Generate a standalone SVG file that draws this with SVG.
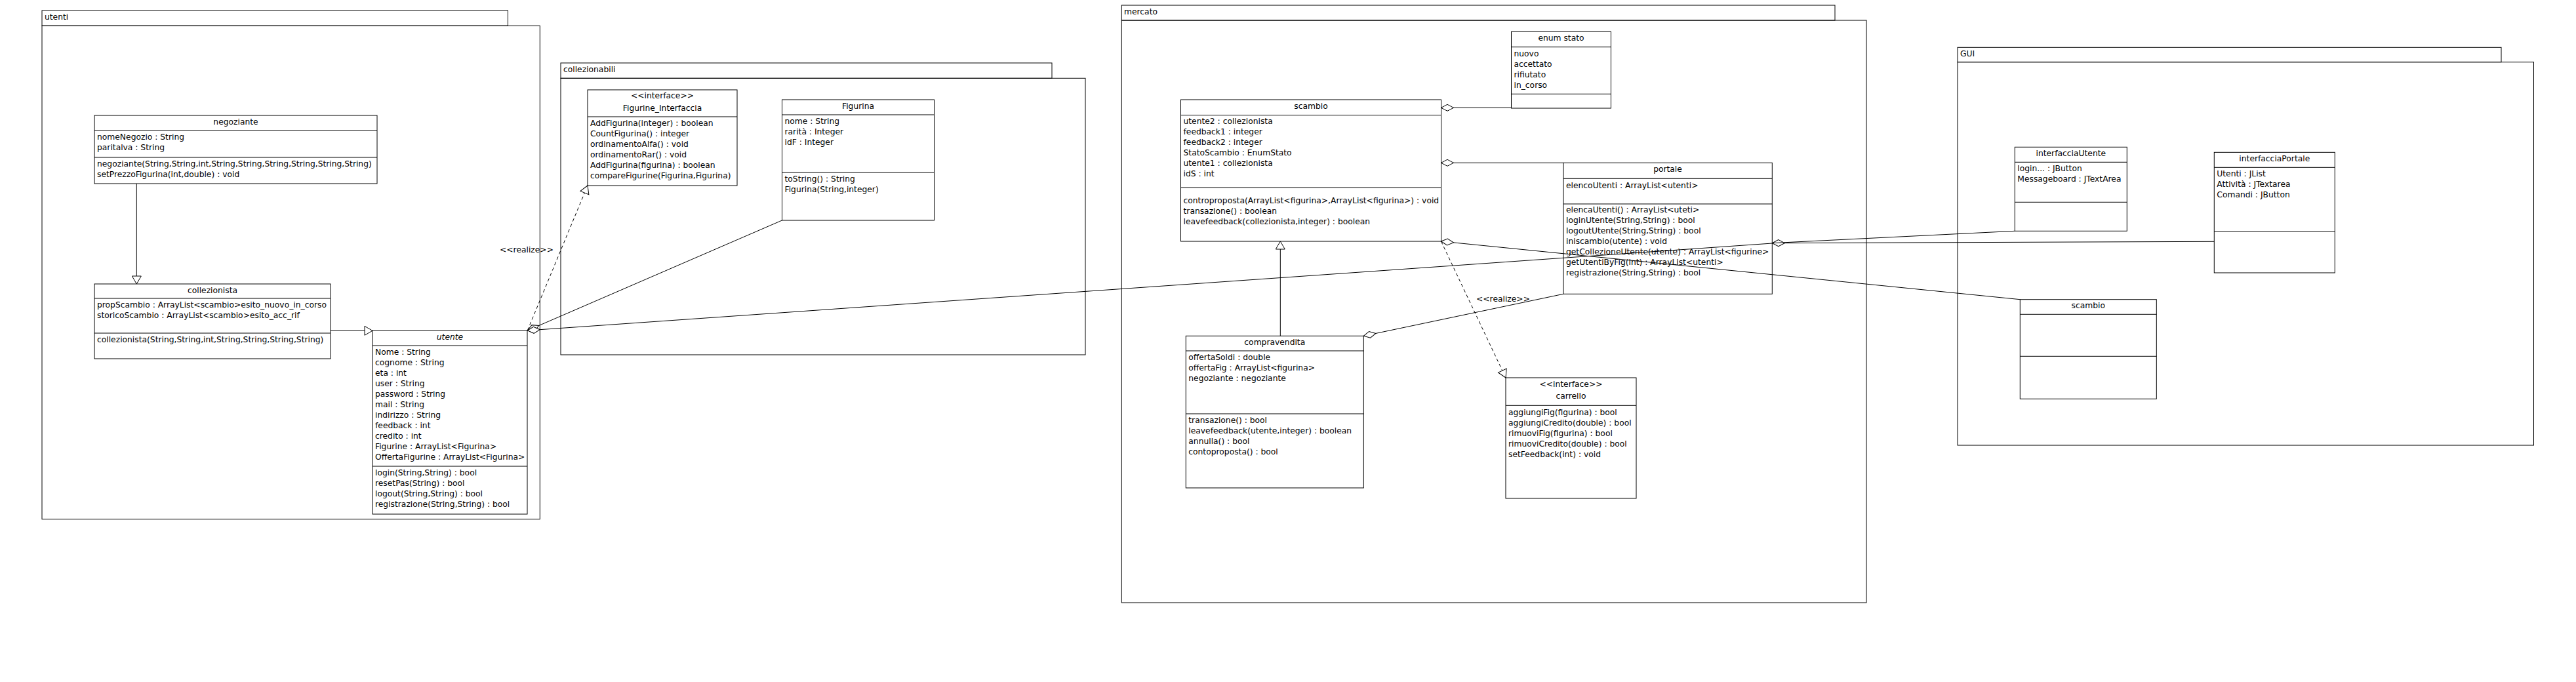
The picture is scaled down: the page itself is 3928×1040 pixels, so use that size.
<svg xmlns="http://www.w3.org/2000/svg" width="3928" height="1040" viewBox="0 0 3928 1040">
<style>
text{font-family:"DejaVu Sans","Liberation Sans",sans-serif;font-size:12.3px;fill:#000}
.c{text-anchor:middle}
.i{font-style:italic}
.box{fill:#fff;stroke:#000;stroke-width:1}
.sep{stroke:#000;stroke-width:1}
.pkg{fill:none;stroke:#000;stroke-width:1}
.ln{fill:none;stroke:#000;stroke-width:1}
.dash{stroke-dasharray:5,4}
</style>
<defs>
<marker id="dia" markerUnits="userSpaceOnUse" orient="auto" refX="0" refY="0" markerWidth="30" markerHeight="30" overflow="visible">
<path d="M0,0 L9.5,-5 L19,0 L9.5,5 Z" fill="#fff" stroke="#000" stroke-width="1"/>
</marker>
<marker id="tri" markerUnits="userSpaceOnUse" orient="auto" refX="0" refY="0" markerWidth="30" markerHeight="30" overflow="visible">
<path d="M0,0 L-12,-7 L-12,7 Z" fill="#fff" stroke="#000" stroke-width="1" stroke-dasharray="none"/>
</marker>
</defs>
<rect width="3928" height="1040" fill="#fff"/>

<g id="packages">
<g id="pkg-utenti">
<rect class="pkg" x="64" y="16" width="710.5" height="23.3"/>
<rect class="pkg" x="64" y="39.3" width="759.3" height="752.4"/>
<text x="68" y="30">utenti</text>
</g>
<g id="pkg-collezionabili">
<rect class="pkg" x="855" y="96" width="749" height="23.3"/>
<rect class="pkg" x="855" y="119.3" width="800" height="421.7"/>
<text x="859" y="110">collezionabili</text>
</g>
<g id="pkg-mercato">
<rect class="pkg" x="1710.3" y="8" width="1087.7" height="23"/>
<rect class="pkg" x="1710.3" y="31" width="1135.7" height="888"/>
<text x="1714" y="22">mercato</text>
</g>
<g id="pkg-gui">
<rect class="pkg" x="2985" y="72.3" width="829" height="22.4"/>
<rect class="pkg" x="2985" y="94.7" width="878.5" height="584.3"/>
<text x="2989" y="86">GUI</text>
</g>
</g>

<g id="negoziante">
<rect class="box" x="144" y="176" width="431" height="104"/>
<line class="sep" x1="144" y1="199" x2="575" y2="199"/>
<line class="sep" x1="144" y1="240" x2="575" y2="240"/>
<text class="c" x="359.5" y="189.5">negoziante</text>
<text x="148" y="212.5">nomeNegozio : String</text>
<text x="148" y="228.5">paritalva : String</text>
<text x="148" y="253.5">negoziante(String,String,int,String,String,String,String,String,String)</text>
<text x="148" y="269.5">setPrezzoFigurina(int,double) : void</text>
</g>

<g id="collezionista">
<rect class="box" x="144" y="433" width="360" height="114"/>
<line class="sep" x1="144" y1="455" x2="504" y2="455"/>
<line class="sep" x1="144" y1="508" x2="504" y2="508"/>
<text class="c" x="324" y="446.5">collezionista</text>
<text x="148" y="468.5">propScambio : ArrayList&lt;scambio&gt;esito_nuovo_in_corso</text>
<text x="148" y="484.5">storicoScambio : ArrayList&lt;scambio&gt;esito_acc_rif</text>
<text x="148" y="521.5">collezionista(String,String,int,String,String,String,String)</text>
</g>

<g id="utente">
<rect class="box" x="568" y="504" width="236" height="280"/>
<line class="sep" x1="568" y1="527" x2="804" y2="527"/>
<line class="sep" x1="568" y1="711" x2="804" y2="711"/>
<text class="c i" x="686" y="517.5">utente</text>
<text x="572" y="540.5">Nome : String</text>
<text x="572" y="556.5">cognome : String</text>
<text x="572" y="572.5">eta : int</text>
<text x="572" y="588.5">user : String</text>
<text x="572" y="604.5">password : String</text>
<text x="572" y="620.5">mail : String</text>
<text x="572" y="636.5">indirizzo : String</text>
<text x="572" y="652.5">feedback : int</text>
<text x="572" y="668.5">credito : int</text>
<text x="572" y="684.5">Figurine : ArrayList&lt;Figurina&gt;</text>
<text x="572" y="700.5">OffertaFigurine : ArrayList&lt;Figurina&gt;</text>
<text x="572" y="724.5">login(String,String) : bool</text>
<text x="572" y="740.5">resetPas(String) : bool</text>
<text x="572" y="756.5">logout(String,String) : bool</text>
<text x="572" y="772.5">registrazione(String,String) : bool</text>
</g>

<g id="Figurine_Interfaccia">
<rect class="box" x="896" y="137" width="228" height="146"/>
<line class="sep" x1="896" y1="178" x2="1124" y2="178"/>
<text class="c" x="1010" y="149.5">&lt;&lt;interface&gt;&gt;</text>
<text class="c" x="1010" y="168.5">Figurine_Interfaccia</text>
<text x="900" y="191.5">AddFigurina(integer) : boolean</text>
<text x="900" y="207.5">CountFigurina() : integer</text>
<text x="900" y="223.5">ordinamentoAlfa() : void</text>
<text x="900" y="239.5">ordinamentoRar() : void</text>
<text x="900" y="255.5">AddFigurina(figurina) : boolean</text>
<text x="900" y="271.5">compareFigurine(Figurina,Figurina)</text>
</g>

<g id="Figurina">
<rect class="box" x="1192.5" y="152" width="232" height="184"/>
<line class="sep" x1="1192.5" y1="175" x2="1424.5" y2="175"/>
<line class="sep" x1="1192.5" y1="263" x2="1424.5" y2="263"/>
<text class="c" x="1308.5" y="165.5">Figurina</text>
<text x="1196.5" y="188.5">nome : String</text>
<text x="1196.5" y="204.5">rarità : Integer</text>
<text x="1196.5" y="220.5">idF : Integer</text>
<text x="1196.5" y="276.5">toString() : String</text>
<text x="1196.5" y="292.5">Figurina(String,integer)</text>
</g>

<g id="scambio">
<rect class="box" x="1800.5" y="152" width="397" height="216"/>
<line class="sep" x1="1800.5" y1="175.5" x2="2197.5" y2="175.5"/>
<line class="sep" x1="1800.5" y1="286" x2="2197.5" y2="286"/>
<text class="c" x="1999" y="165.5">scambio</text>
<text x="1804.5" y="189">utente2 : collezionista</text>
<text x="1804.5" y="205">feedback1 : integer</text>
<text x="1804.5" y="221">feedback2 : integer</text>
<text x="1804.5" y="237">StatoScambio : EnumStato</text>
<text x="1804.5" y="253">utente1 : collezionista</text>
<text x="1804.5" y="269">idS : int</text>
<text x="1804.5" y="309.5">controproposta(ArrayList&lt;figurina&gt;,ArrayList&lt;figurina&gt;) : void</text>
<text x="1804.5" y="325.5">transazione() : boolean</text>
<text x="1804.5" y="341.5">leavefeedback(collezionista,integer) : boolean</text>
</g>

<g id="enum-stato">
<rect class="box" x="2304.5" y="48.3" width="152" height="116.7"/>
<line class="sep" x1="2304.5" y1="71.7" x2="2456.5" y2="71.7"/>
<line class="sep" x1="2304.5" y1="143.3" x2="2456.5" y2="143.3"/>
<text class="c" x="2380.5" y="61.5">enum stato</text>
<text x="2308.5" y="85.5">nuovo</text>
<text x="2308.5" y="101.5">accettato</text>
<text x="2308.5" y="117.5">rifiutato</text>
<text x="2308.5" y="133.5">in_corso</text>
</g>

<g id="portale">
<rect class="box" x="2384" y="248.3" width="318.3" height="200"/>
<line class="sep" x1="2384" y1="272.3" x2="2702.3" y2="272.3"/>
<line class="sep" x1="2384" y1="311" x2="2702.3" y2="311"/>
<text class="c" x="2543" y="261.5">portale</text>
<text x="2388" y="287">elencoUtenti : ArrayList&lt;utenti&gt;</text>
<text x="2388" y="323.5">elencaUtenti() : ArrayList&lt;uteti&gt;</text>
<text x="2388" y="339.5">loginUtente(String,String) : bool</text>
<text x="2388" y="355.5">logoutUtente(String,String) : bool</text>
<text x="2388" y="371.5">iniscambio(utente) : void</text>
<text x="2388" y="387.5">getCollezioneUtente(utente) : ArrayList&lt;figurine&gt;</text>
<text x="2388" y="403.5">getUtentiByFig(int) : ArrayList&lt;utenti&gt;</text>
<text x="2388" y="419.5">registrazione(String,String) : bool</text>
</g>

<g id="compravendita">
<rect class="box" x="1808.3" y="512.3" width="271" height="231.7"/>
<line class="sep" x1="1808.3" y1="535" x2="2079.3" y2="535"/>
<line class="sep" x1="1808.3" y1="631" x2="2079.3" y2="631"/>
<text class="c" x="1943.8" y="526">compravendita</text>
<text x="1812.3" y="548.5">offertaSoldi : double</text>
<text x="1812.3" y="564.5">offertaFig : ArrayList&lt;figurina&gt;</text>
<text x="1812.3" y="580.5">negoziante : negoziante</text>
<text x="1812.3" y="644.5">transazione() : bool</text>
<text x="1812.3" y="660.5">leavefeedback(utente,integer) : boolean</text>
<text x="1812.3" y="676.5">annulla() : bool</text>
<text x="1812.3" y="692.5">contoproposta() : bool</text>
</g>

<g id="carrello">
<rect class="box" x="2296" y="576" width="199" height="184"/>
<line class="sep" x1="2296" y1="618.3" x2="2495" y2="618.3"/>
<text class="c" x="2395.5" y="589.5">&lt;&lt;interface&gt;&gt;</text>
<text class="c" x="2395.5" y="608">carrello</text>
<text x="2300" y="632.5">aggiungiFig(figurina) : bool</text>
<text x="2300" y="648.5">aggiungiCredito(double) : bool</text>
<text x="2300" y="664.5">rimuoviFig(figurina) : bool</text>
<text x="2300" y="680.5">rimuoviCredito(double) : bool</text>
<text x="2300" y="696.5">setFeedback(int) : void</text>
</g>

<g id="interfacciaUtente">
<rect class="box" x="3072.3" y="224.3" width="171" height="128"/>
<line class="sep" x1="3072.3" y1="247.3" x2="3243.3" y2="247.3"/>
<line class="sep" x1="3072.3" y1="308.3" x2="3243.3" y2="308.3"/>
<text class="c" x="3157.8" y="237.5">interfacciaUtente</text>
<text x="3076.3" y="261">login... : JButton</text>
<text x="3076.3" y="277">Messageboard : JTextArea</text>
</g>

<g id="interfacciaPortale">
<rect class="box" x="3376.3" y="232.3" width="184" height="183.7"/>
<line class="sep" x1="3376.3" y1="255.3" x2="3560.3" y2="255.3"/>
<line class="sep" x1="3376.3" y1="352.7" x2="3560.3" y2="352.7"/>
<text class="c" x="3468.3" y="245.5">interfacciaPortale</text>
<text x="3380.3" y="269">Utenti : JList</text>
<text x="3380.3" y="285">Attività : JTextarea</text>
<text x="3380.3" y="301">Comandi : JButton</text>
</g>

<g id="gui-scambio">
<rect class="box" x="3080.3" y="456.7" width="208" height="151.6"/>
<line class="sep" x1="3080.3" y1="479.3" x2="3288.3" y2="479.3"/>
<line class="sep" x1="3080.3" y1="543.3" x2="3288.3" y2="543.3"/>
<text class="c" x="3184.3" y="469.5">scambio</text>
</g>

<g id="connectors">
<line class="ln" x1="208.3" y1="280" x2="208.3" y2="433" marker-end="url(#tri)"/>
<line class="ln" x1="504" y1="504.3" x2="568" y2="504.3" marker-end="url(#tri)"/>
<line class="ln dash" x1="804.3" y1="504" x2="896" y2="283" marker-end="url(#tri)"/>
<text class="c" x="803" y="385">&lt;&lt;realize&gt;&gt;</text>
<line class="ln" x1="804.3" y1="504" x2="1192.5" y2="336" marker-start="url(#dia)"/>
<line class="ln" x1="804.3" y1="504" x2="2702.3" y2="371" marker-start="url(#dia)"/>
<line class="ln" x1="2197.5" y1="164.3" x2="2304.5" y2="164.3" marker-start="url(#dia)"/>
<line class="ln" x1="2197.5" y1="248.3" x2="2384" y2="248.3" marker-start="url(#dia)"/>
<line class="ln" x1="2197.5" y1="368" x2="3080.3" y2="456.7" marker-start="url(#dia)"/>
<line class="ln" x1="1952.3" y1="512.3" x2="1952.3" y2="368" marker-end="url(#tri)"/>
<line class="ln" x1="2079.3" y1="512.3" x2="2384" y2="448.3" marker-start="url(#dia)"/>
<line class="ln dash" x1="2197.5" y1="368" x2="2296" y2="576" marker-end="url(#tri)"/>
<text class="c" x="2292" y="460">&lt;&lt;realize&gt;&gt;</text>
<line class="ln" x1="2702.3" y1="370.7" x2="3376.3" y2="368.3" marker-start="url(#dia)"/>
<line class="ln" x1="2702.3" y1="370.7" x2="3072.3" y2="352.3"/>
</g>
</svg>
